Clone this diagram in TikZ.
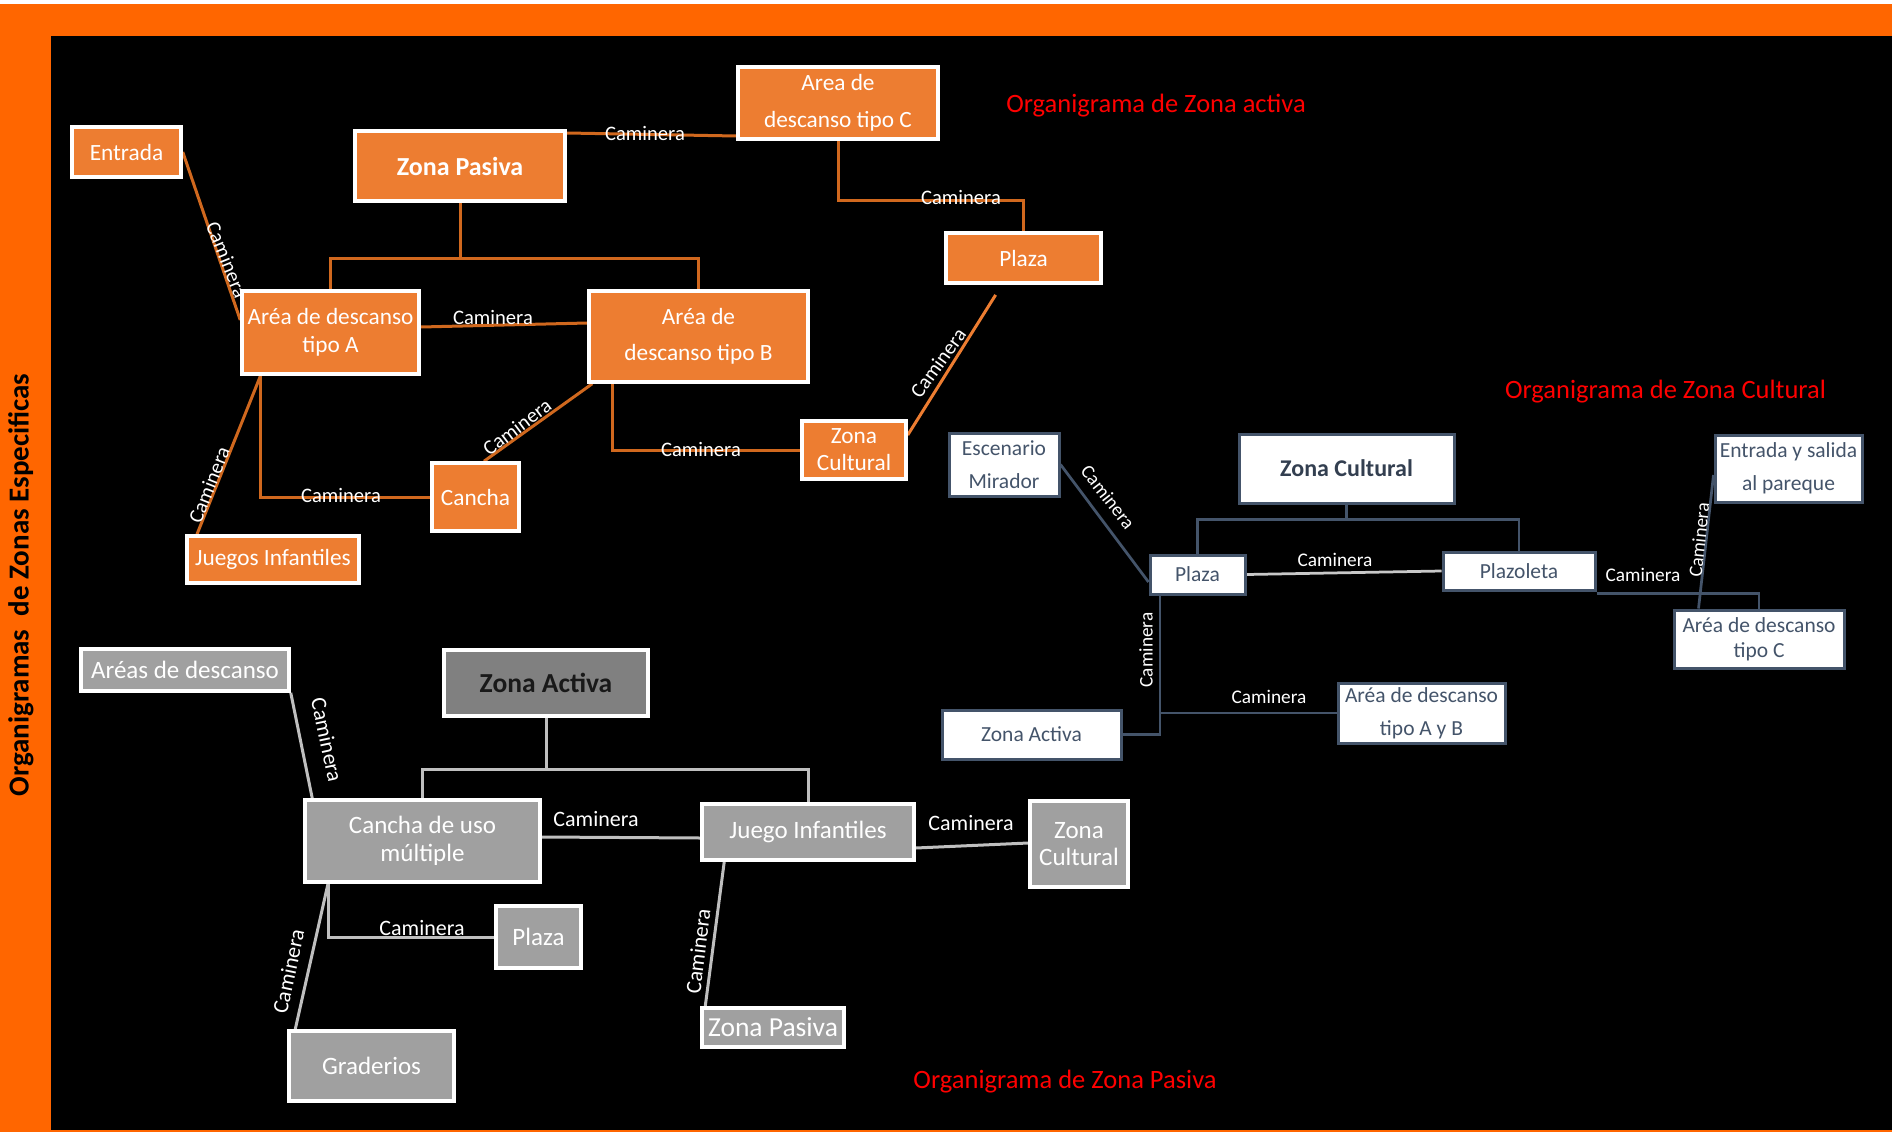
\documentclass[tikz,border=0pt]{standalone}
\usepackage{fontspec}
\setmainfont{Carlito}
\usetikzlibrary{calc}
\definecolor{band}{HTML}{FF6600}
\definecolor{ofill}{HTML}{ED7D31}
\definecolor{olinec}{HTML}{D0681E}
\definecolor{clinec}{HTML}{44546A}
\definecolor{ctext}{HTML}{44546A}
\definecolor{cbold}{HTML}{333F50}
\definecolor{lgray}{HTML}{C8C8C8}
\definecolor{gfill}{HTML}{A0A0A0}
\definecolor{gdark}{HTML}{808080}
\definecolor{glinec}{HTML}{BFBFBF}
\definecolor{ttlred}{HTML}{FF0000}
\newcommand\fsz[2]{\fontsize{#1}{#2}\selectfont}
\pgfdeclarelayer{bg}
\pgfsetlayers{bg,main}
\begin{document}
\begin{tikzpicture}[x=1pt,y=-1pt,
  sz/.style 2 args={minimum width=#1pt,minimum height=#2pt},
  obox/.style={draw=white,line width=3.5pt,fill=ofill,text=white,font=\fsz{23.3}{28},align=center,inner sep=0pt},
  cbox/.style={draw=clinec,line width=3pt,fill=white,text=ctext,font=\fsz{21.5}{33},align=center,inner sep=0pt},
  gbox/.style={draw=white,line width=3.5pt,fill=gfill,text=white,font=\fsz{25}{28},align=center,inner sep=0pt},
  olink/.style={draw=olinec,line width=3pt},
  clink/.style={draw=clinec,line width=2.75pt},
  lglink/.style={draw=lgray,line width=2.75pt},
  glink/.style={draw=glinec,line width=3pt},
  olab/.style={text=white,font=\fsz{20.6}{24},inner sep=0pt},
  clab/.style={text=white,font=\fsz{19.3}{22},inner sep=0pt},
  glab/.style={text=white,font=\fsz{22}{25},inner sep=0pt},
  redtitle/.style={text=ttlred,font=\fsz{26.5}{30},inner sep=0pt}
]
\useasboundingbox (0,0) rectangle (1892,1132);

% ---------- orange organigram ----------
\node[obox,sz={109}{50}] (oEntrada) at (126.5,152) {Entrada};
\node[obox,sz={210}{70},font=\fsz{26}{30}\bfseries] (oZP) at (460,166) {Zona Pasiva};
\node[obox,sz={200}{72},font=\fsz{23.3}{37}] (oAC) at (838,103) {Area de\\descanso tipo C};
\node[obox,sz={155}{50}] (oPlaza) at (1023.5,258) {Plaza};
\node[obox,sz={177}{83}] (oAA) at (330.5,332.5) {Aréa de descanso\\tipo A};
\node[obox,sz={219}{91},font=\fsz{23.3}{36}] (oAB) at (698.5,336.5) {Aréa de\\descanso tipo B};
\node[obox,sz={172}{47}] (oJI) at (273,559.5) {Juegos Infantiles};
\node[obox,sz={87}{68}] (oCancha) at (475.5,497) {Cancha};
\node[obox,sz={104}{58},font=\fsz{23.3}{27}] (oZC) at (854,450) {Zona\\Cultural};

% ---------- cultural organigram ----------
\node[cbox,sz={110}{63}] (cEsc) at (1004,464.5) {Escenario\\Mirador};
\node[cbox,sz={215}{69},font=\fsz{24}{28}\bfseries,text=cbold] (cZC) at (1346.5,468.5) {Zona Cultural};
\node[cbox,sz={95}{39}] (cPlaza) at (1197.5,574.5) {Plaza};
\node[cbox,sz={152}{38}] (cPlazoleta) at (1519,571) {Plazoleta};
\node[cbox,sz={147}{67}] (cEntrada) at (1788.5,468.5) {Entrada y salida\\al pareque};
\node[cbox,sz={170}{58},font=\fsz{21.5}{25}] (cAC) at (1759,639) {Aréa de descanso\\tipo C};
\node[cbox,sz={179}{49}] (cZA) at (1031.5,734.5) {Zona Activa};
\node[cbox,sz={167}{60}] (cAAB) at (1421.5,713) {Aréa de descanso\\tipo A y B};

% ---------- gray organigram ----------
\node[gbox,sz={208}{42}] (gAD) at (185,670) {Aréas de descanso};
\node[gbox,sz={204}{66},fill=gdark,text=black!90,font=\fsz{27.5}{30}\bfseries] (gZA) at (546,683) {Zona Activa};
\node[gbox,sz={235}{82}] (gCancha) at (422.5,841) {Cancha de uso\\múltiple};
\node[gbox,sz={85}{62}] (gPlaza) at (538.5,937) {Plaza};
\node[gbox,sz={165}{70}] (gGrad) at (371.5,1066) {Graderios};
\node[gbox,sz={212}{56}] (gJI) at (808,832) {Juego Infantiles};
\node[gbox,sz={98}{86},font=\fsz{25}{27}] (gZC) at (1079,844) {Zona\\Cultural};
\node[gbox,sz={142}{39},font=\fsz{27.5}{30}] (gZP) at (773,1027.5) {Zona Pasiva};

\begin{pgfonlayer}{bg}
  % frame
  \fill[white] (0,0) rectangle (1892,4);
  \fill[band] (0,4) rectangle (1892,36);
  \fill[band] (0,4) rectangle (51,1132);
  \fill[black] (51,36) rectangle (1892,1130);
  \fill[band] (51,1130) rectangle (1892,1132);
  % orange links
  \draw[olink] ([yshift=33pt]oZP.east) -- ([yshift=-33pt]oAC.west);
  \draw[olink] (oAC.south) -- ++(0,60) -| (oPlaza.north);
  \draw[olink] (oZP.south) -- ++(0,56) -| (oAA.north);
  \draw[olink] (oZP.south) -- ++(0,56) -| (oAB.north);
  \draw[olink] ([yshift=5.5pt]oAA.east) -- ([yshift=13.5pt]oAB.west);
  \draw[olink] (oEntrada.east) -- ([yshift=12.5pt]oAA.west);
  \draw[olink] ([xshift=-76pt]oJI.north) -- ([xshift=-70pt]oAA.south);
  \draw[olink] ([xshift=-70pt]oAA.south) |- (oCancha.west);
  \draw[olink] ([xshift=8.5pt]oCancha.north) -- ([xshift=5pt]oAB.south west);
  \draw[olink] ([xshift=-86.5pt]oAB.south) |- (oZC.west);
  \draw[olink,draw=ofill,shorten >=12pt] ([yshift=15pt]oZC.east) -- ([xshift=-21.5pt]oPlaza.south);
  % cultural links
  \draw[clink] (cZC.south) -- ++(0,15) -| (cPlaza.north);
  \draw[clink] (cZC.south) -- ++(0,15) -| (cPlazoleta.north);
  \draw[lglink] (cPlaza.east) -- (cPlazoleta.west);
  \draw[clink] (cEsc.east) -- ([yshift=-7.5pt]cPlaza.west);
  \draw[clink] ([xshift=-37.5pt]cPlaza.south) |- (cZA.east);
  \draw[clink] ([xshift=-37.5pt]cPlaza.south) |- (cAAB.west);
  \draw[clink] ([yshift=-2pt]cPlazoleta.south east) -| (cAC.north);
  \draw[clink] ([yshift=-6.5pt]cEntrada.west) -- ([xshift=26pt]cAC.north west);
  % gray links
  \draw[glink] (gZA.south) -- ++(0,52) -| (gCancha.north);
  \draw[glink] (gZA.south) -- ++(0,52) -| (gJI.north);
  \draw[glink] (gAD.south east) -- ([xshift=9pt]gCancha.north west);
  \draw[glink] ([yshift=4pt]gCancha.east) -- ([yshift=-6pt]gJI.west);
  \draw[glink] ([yshift=-16pt]gJI.east) -- ([yshift=1pt]gZC.west);
  \draw[glink] ([xshift=-94.5pt]gCancha.south) |- (gPlaza.west);
  \draw[glink] ([xshift=-94.5pt]gCancha.south) -- ([xshift=8pt]gGrad.north west);
  \draw[glink] ([xshift=24pt]gJI.south west) -- ([xshift=5pt]gZP.north west);
\end{pgfonlayer}

% ---------- connector labels ----------
\node[olab] (l1) at (645,133) {Caminera};
\node[olab] (l2) at (961,197) {Caminera};
\node[olab] (l3) at (493,317) {Caminera};
\node[olab,rotate=-68] (l4) at (227,260) {Caminera};
\node[olab,rotate=68.5] (l5) at (209,485) {Caminera};
\node[olab] (l6) at (341,495) {Caminera};
\node[olab,rotate=37] (l7) at (517,427) {Caminera};
\node[olab] (l8) at (701,449) {Caminera};
\node[olab,rotate=54] (l9) at (938,363) {Caminera};

\node[clab] (m1) at (1335,560) {Caminera};
\node[clab,rotate=-52] (m2) at (1108,497) {Caminera};
\node[clab,rotate=90] (m3) at (1146,650) {Caminera};
\node[clab] (m4) at (1269,697) {Caminera};
\node[clab] (m5) at (1643,575) {Caminera};
\node[clab,rotate=84] (m6) at (1699,540) {Caminera};

\node[glab,rotate=-78] (n1) at (327,740) {Caminera};
\node[glab] (n2) at (596,819) {Caminera};
\node[glab] (n3) at (971,823) {Caminera};
\node[glab] (n4) at (422,928) {Caminera};
\node[glab,rotate=78] (n5) at (288.5,971.5) {Caminera};
\node[glab,rotate=83] (n6) at (698,951) {Caminera};

% ---------- titles ----------
\node[redtitle] (t1) at (1156,106) {Organigrama de Zona activa};
\node[redtitle] (t2) at (1665.5,392) {Organigrama de Zona Cultural};
\node[redtitle] (t3) at (1065,1082) {Organigrama de Zona Pasiva};
\node[font=\fsz{29}{32}\bfseries,text=black,rotate=90,inner sep=0pt] (side) at (21,585) {Organigramas\ \ de Zonas Especificas};
\end{tikzpicture}
\end{document}
